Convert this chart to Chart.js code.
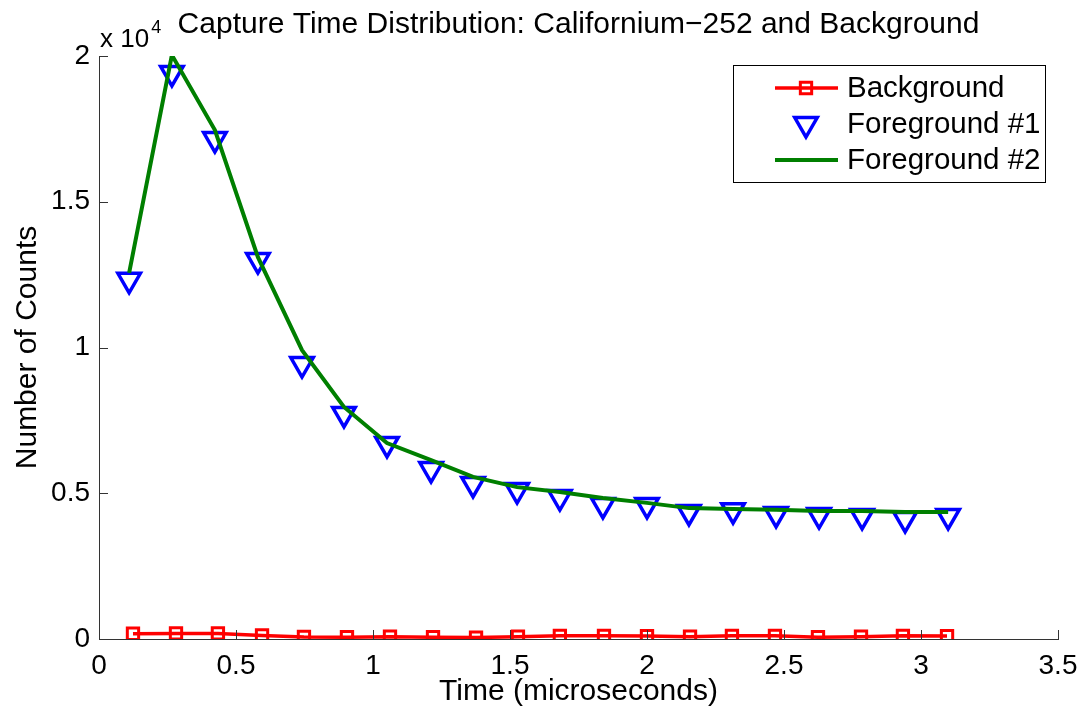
<!DOCTYPE html>
<html lang="en">
  <head>
    <meta charset="UTF-8" />
    <title>Capture Time Distribution</title>
    <script src="https://cdn.jsdelivr.net/npm/chart.js"></script>
    <style>
      html, body { margin: 0; padding: 0; background: #fff; }
      #wrap { width: 1081px; height: 713px; }
    </style>
  </head>
  <body>
    <div id="wrap"><canvas id="captureChart" width="1081" height="713"></canvas></div>

<script>
// background run (red squares)
const bgTime = [0.124, 0.281, 0.434, 0.595, 0.748, 0.905, 1.062, 1.219, 1.376, 1.529,
                1.682, 1.843, 2.0, 2.157, 2.310, 2.467, 2.624, 2.781, 2.934, 3.095];
const bgCounts = [180, 190, 190, 120, 70, 60, 80, 60, 50, 80,
                  110, 110, 100, 80, 110, 110, 60, 80, 110, 100];

// foreground runs (Cf-252)
const fgTime = [0.110, 0.266, 0.423, 0.580, 0.741, 0.894, 1.051, 1.212, 1.365, 1.526,
                1.682, 1.839, 2.0, 2.153, 2.314, 2.471, 2.628, 2.785, 2.942, 3.099];
const fg1Counts = [12320, 19420, 17150, 13000, 9430, 7720, 6690, 5830, 5320, 5110,
                   4870, 4600, 4600, 4360, 4420, 4290, 4250, 4220, 4120, 4220];
const fg2Counts = [12560, 20030, 17460, 13100, 9910, 7960, 6720, 6140, 5560, 5210,
                   5040, 4840, 4670, 4490, 4460, 4430, 4390, 4390, 4360, 4360];

const seriesNames = ["Background", "Foreground #1", "Foreground #2"];
const titleText = "Capture Time Distribution: Californium\u2212252 and Background";
const FONT = "'Liberation Sans', Arial, Helvetica, sans-serif";

function pairs(xs, ys) {
  return xs.map((x, i) => ({ x: x, y: ys[i] }));
}

// title over the axes, matlab style ticks pointing inside, "x 10^4" exponent
const axisDecor = {
  id: "axis-decor",
  afterDraw(chart) {
    const { ctx, chartArea, scales } = chart;
    const len = 9;
    ctx.save();
    ctx.strokeStyle = "#333";
    ctx.lineWidth = 1;
    ctx.beginPath();
    scales.x.ticks.forEach((t) => {
      const px = Math.round(scales.x.getPixelForValue(t.value)) + 0.5;
      ctx.moveTo(px, chartArea.bottom);
      ctx.lineTo(px, chartArea.bottom - len);
    });
    scales.y.ticks.forEach((t) => {
      const py = Math.round(scales.y.getPixelForValue(t.value)) + 0.5;
      ctx.moveTo(chartArea.left, py);
      ctx.lineTo(chartArea.left + len, py);
    });
    ctx.stroke();

    ctx.fillStyle = "#000";
    ctx.textBaseline = "alphabetic";
    ctx.textAlign = "center";
    ctx.font = "30px " + FONT;
    ctx.fillText(titleText, (chartArea.left + chartArea.right) / 2, 33);

    ctx.textAlign = "left";
    ctx.font = "26px " + FONT;
    ctx.fillText("x 10", chartArea.left + 1, 47);
    const w = ctx.measureText("x 10").width;
    ctx.font = "18px " + FONT;
    ctx.fillText("4", chartArea.left + 3 + w, 33);
    ctx.restore();
  }
};

// legend box in the upper right, drawn like matlab does
const boxLegend = {
  id: "box-legend",
  afterDraw(chart) {
    const { ctx } = chart;
    const left = 733, top = 65, right = 1045, bottom = 182;
    const rows = [88, 124, 160];
    ctx.save();
    ctx.fillStyle = "#fff";
    ctx.fillRect(left, top, right - left, bottom - top);
    ctx.strokeStyle = "#000";
    ctx.lineWidth = 1;
    ctx.strokeRect(left + 0.5, top + 0.5, right - left, bottom - top);

    chart.data.datasets.forEach((ds, i) => {
      const y = rows[i];
      if (ds.showLine !== false) {
        ctx.strokeStyle = ds.borderColor;
        ctx.lineWidth = ds.borderWidth;
        ctx.beginPath();
        ctx.moveTo(775, y);
        ctx.lineTo(838, y);
        ctx.stroke();
      }
      if (ds.pointRadius > 0) {
        ctx.strokeStyle = ds.pointBorderColor;
        ctx.fillStyle = "rgba(0,0,0,0)";
        ctx.lineWidth = ds.pointBorderWidth;
        Chart.helpers.drawPoint(ctx, {
          pointStyle: ds.pointStyle,
          rotation: ds.pointRotation || 0,
          radius: ds.pointRadius,
          borderWidth: ds.pointBorderWidth
        }, 806, y);
      }
    });

    ctx.fillStyle = "#000";
    ctx.font = "29.5px " + FONT;
    ctx.textBaseline = "middle";
    seriesNames.forEach((name, i) => ctx.fillText(name, 847, rows[i] + 1));
    ctx.restore();
  }
};

new Chart(document.getElementById("captureChart"), {
  type: "line",
  data: {
    datasets: [
      {
        label: seriesNames[0],
        data: pairs(bgTime, bgCounts),
        borderColor: "#ff0000",
        borderWidth: 3.5,
        pointStyle: "rect",
        pointRadius: 8,
        pointBorderWidth: 3,
        pointBorderColor: "#ff0000",
        pointBackgroundColor: "rgba(0,0,0,0)",
        order: 3
      },
      {
        label: seriesNames[1],
        data: pairs(fgTime, fg1Counts),
        showLine: false,
        borderColor: "#0000ff",
        pointStyle: "triangle",
        pointRotation: 180,
        pointRadius: 13,
        pointBorderWidth: 3.5,
        pointBorderColor: "#0000ff",
        pointBackgroundColor: "rgba(0,0,0,0)",
        order: 2
      },
      {
        label: seriesNames[2],
        data: pairs(fgTime, fg2Counts),
        borderColor: "#007f00",
        borderWidth: 4,
        pointRadius: 0,
        order: 1
      }
    ]
  },
  options: {
    responsive: false,
    animation: false,
    devicePixelRatio: 1,
    layout: { padding: { left: 0, right: 23, top: 56, bottom: 0 } },
    plugins: {
      legend: { display: false },
      tooltip: { enabled: false },
      title: { display: false }
    },
    scales: {
      x: {
        type: "linear",
        min: 0,
        max: 3.5,
        grid: { display: false },
        border: { display: true, color: "#333", width: 1 },
        ticks: {
          stepSize: 0.5,
          color: "#000",
          padding: 2,
          maxRotation: 0,
          font: { family: FONT, size: 28 },
          callback: (v) => String(+v.toFixed(2))
        },
        title: {
          display: true,
          text: "Time (microseconds)",
          color: "#000",
          font: { family: FONT, size: 30 },
          padding: { top: 0, bottom: 3 }
        },
        afterFit: (scale) => { scale.height = 74; }
      },
      y: {
        min: 0,
        max: 20000,
        grid: { display: false },
        border: { display: true, color: "#333", width: 1 },
        ticks: {
          stepSize: 5000,
          color: "#000",
          padding: 1,
          font: { family: FONT, size: 28 },
          callback: (v) => String(v / 10000)
        },
        title: {
          display: true,
          text: "Number of Counts",
          color: "#000",
          font: { family: FONT, size: 30 },
          padding: { top: 10, bottom: 0 }
        },
        afterFit: (scale) => { scale.width = 99; }
      }
    }
  },
  plugins: [axisDecor, boxLegend]
});
</script>
  </body>
</html>
